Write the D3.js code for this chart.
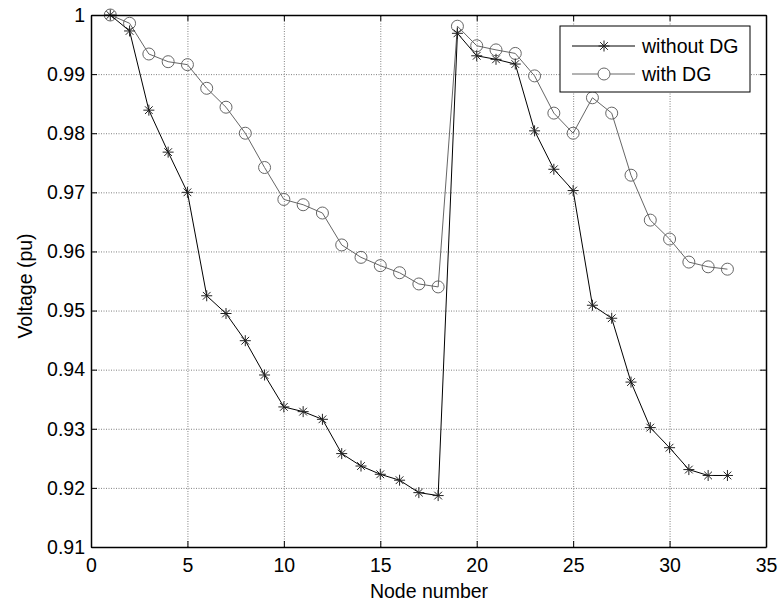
<!DOCTYPE html>
<html>
<head>
<meta charset="utf-8">
<script src="https://cdn.jsdelivr.net/npm/d3@7"></script>
<style>
  body { margin: 0; background: #fff; }
  svg { display: block; font-family: "Liberation Sans", Arial, sans-serif; }
  .grid line { stroke: #808080; stroke-dasharray: 1,1.5; }
  .grid path { display: none; }
  .tick text { font-size: 19.5px; fill: #000; }
</style>
</head>
<body>
<svg id="chart" width="778" height="604"></svg>
<script>
// ======================
// DATA
// ======================

const nodes = d3.range(1, 34);

const withoutDG = [
    1.0000, 0.9973, 0.9839, 0.9768, 0.9700, 0.9525, 0.9495, 0.9449, 0.9391, 0.9337,
    0.9329, 0.9316, 0.9258, 0.9237, 0.9223, 0.9213, 0.9192, 0.9187, 0.9969, 0.9931,
    0.9925, 0.9917, 0.9804, 0.9739, 0.9703, 0.9509, 0.9487, 0.9379, 0.9302, 0.9268,
    0.9231, 0.9221, 0.9221
];

const withDG = [
    1.0000, 0.9986, 0.9934, 0.9921, 0.9916, 0.9876, 0.9844, 0.9800, 0.9742, 0.9688,
    0.9679, 0.9665, 0.9611, 0.9590, 0.9576, 0.9564, 0.9545, 0.9540, 0.9981, 0.9948,
    0.9941, 0.9935, 0.9897, 0.9834, 0.9800, 0.9860, 0.9834, 0.9729, 0.9653, 0.9621,
    0.9582, 0.9574, 0.9570
];

const xTicks = [0, 5, 10, 15, 20, 25, 30, 35];
const yTicks = [0.91, 0.92, 0.93, 0.94, 0.95, 0.96, 0.97, 0.98, 0.99, 1];
const seriesNames = ["without DG", "with DG"];

// ======================
// SETUP
// ======================

const svg = d3.select("#chart");
const margin = { top: 15, right: 12, bottom: 57, left: 91 };
const width = 778 - margin.left - margin.right;
const height = 604 - margin.top - margin.bottom;
const fontSize = "19.5px";

const g = svg.append("g")
    .attr("transform", `translate(${margin.left},${margin.top})`);

const x = d3.scaleLinear().domain([0, 35]).range([0, width]);
const y = d3.scaleLinear().domain([0.91, 1]).range([height, 0]);

// grid (dotted)
g.append("g")
    .attr("class", "grid")
    .call(d3.axisLeft(y).tickValues(yTicks).tickSize(-width).tickFormat(""));
g.append("g")
    .attr("class", "grid")
    .attr("transform", `translate(0,${height})`)
    .call(d3.axisBottom(x).tickValues(xTicks).tickSize(-height).tickFormat(""));

// ======================
// LINES & MARKERS
// ======================

const line = d3.line()
    .x((d, i) => x(nodes[i]))
    .y(d => y(d));

g.append("path")
    .datum(withDG)
    .attr("fill", "none")
    .attr("stroke", "#666")
    .attr("stroke-width", 1)
    .attr("d", line);

g.selectAll(".circ")
    .data(withDG)
    .enter()
    .append("circle")
    .attr("class", "circ")
    .attr("cx", (d, i) => x(nodes[i]))
    .attr("cy", d => y(d))
    .attr("r", 6)
    .attr("fill", "none")
    .attr("stroke", "#666")
    .attr("stroke-width", 1);

g.append("path")
    .datum(withoutDG)
    .attr("fill", "none")
    .attr("stroke", "#000")
    .attr("stroke-width", 1)
    .attr("d", line);

// star marker ("*")
function starPath(cx, cy, s) {
    const d = s * 0.7;
    return `M${cx - s},${cy}H${cx + s}M${cx},${cy - s}V${cy + s}` +
        `M${cx - d},${cy - d}L${cx + d},${cy + d}M${cx - d},${cy + d}L${cx + d},${cy - d}`;
}

g.selectAll(".star")
    .data(withoutDG)
    .enter()
    .append("path")
    .attr("class", "star")
    .attr("d", (d, i) => starPath(x(nodes[i]), y(d), 5.5))
    .attr("fill", "none")
    .attr("stroke", "#222")
    .attr("stroke-width", 1);

// ======================
// AXES (box, inward ticks)
// ======================

const axisStyle = sel => {
    sel.select(".domain").attr("stroke", "#000").attr("stroke-width", 1.5);
    sel.selectAll(".tick line").attr("stroke", "#000");
};

g.append("g")
    .attr("transform", `translate(0,${height})`)
    .call(d3.axisBottom(x).tickValues(xTicks).tickSizeInner(-6).tickSizeOuter(0).tickPadding(11))
    .call(axisStyle);
g.append("g")
    .call(d3.axisLeft(y).tickValues(yTicks).tickSizeInner(-6).tickSizeOuter(0).tickPadding(6)
        .tickFormat(d => d3.format("")(+d.toFixed(2))))
    .call(axisStyle);
g.append("g")
    .call(d3.axisTop(x).tickValues(xTicks).tickSizeInner(-6).tickSizeOuter(0).tickFormat(""))
    .call(axisStyle);
g.append("g")
    .attr("transform", `translate(${width},0)`)
    .call(d3.axisRight(y).tickValues(yTicks).tickSizeInner(-6).tickSizeOuter(0).tickFormat(""))
    .call(axisStyle);

svg.selectAll(".tick text").attr("font-family", "Liberation Sans, Arial, sans-serif");

// axis labels
svg.append("text")
    .attr("x", margin.left + width / 2 + 0.5)
    .attr("y", 598)
    .attr("text-anchor", "middle")
    .attr("font-size", fontSize)
    .text("Node number");

svg.append("text")
    .attr("transform", "rotate(-90)")
    .attr("x", -286)
    .attr("y", 32)
    .attr("text-anchor", "middle")
    .attr("font-size", fontSize)
    .text("Voltage (pu)");

// ======================
// LEGEND
// ======================

const legend = svg.append("g").attr("transform", "translate(560,26)");
legend.append("rect")
    .attr("width", 190)
    .attr("height", 66)
    .attr("fill", "#fff")
    .attr("stroke", "#000")
    .attr("stroke-width", 1);

const rows = legend.selectAll(".row")
    .data(seriesNames)
    .enter()
    .append("g")
    .attr("transform", (d, i) => `translate(0,${20 + i * 28})`);

rows.append("line")
    .attr("x1", 12).attr("x2", 75)
    .attr("stroke", (d, i) => i === 0 ? "#000" : "#666");

rows.filter((d, i) => i === 0).append("path")
    .attr("d", starPath(44, 0, 5.5))
    .attr("fill", "none")
    .attr("stroke", "#222");

rows.filter((d, i) => i === 1).append("circle")
    .attr("cx", 44).attr("r", 6)
    .attr("fill", "#fff")
    .attr("stroke", "#666");

rows.append("text")
    .attr("x", 82)
    .attr("dy", "0.35em")
    .attr("font-size", fontSize)
    .text(d => d);
</script>
</body>
</html>
